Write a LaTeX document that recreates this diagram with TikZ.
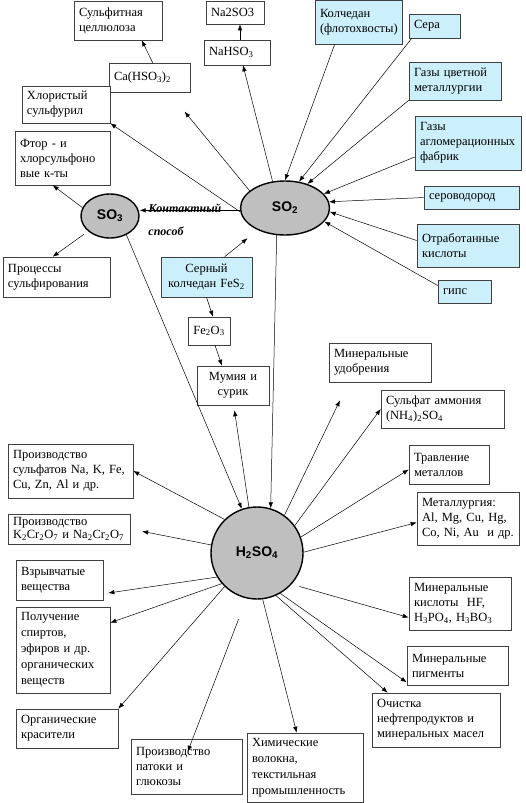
\documentclass[tikz,border=0pt]{standalone}
\usepackage{fontspec}
\setmainfont{Liberation Serif}
\setsansfont{Liberation Sans}
\usetikzlibrary{arrows.meta,shapes.geometric}

\begin{document}
\begin{tikzpicture}[x=1pt,y=-1pt,
  box/.style={draw=black!75,line width=0.6pt,fill=white,align=left,inner xsep=5pt,inner ysep=0pt,
    font=\fontsize{12.5}{15}\selectfont},
  src/.style={box,fill=cyan!20},
  blob/.style={ellipse,draw,line width=1.4pt,fill=gray!50,inner sep=0pt,
    font=\sffamily\bfseries\fontsize{14}{14}\selectfont},
  arr/.style={-{Latex[length=6pt,width=4.5pt]},line width=0.5pt}]

  \useasboundingbox (0,0) rectangle (525,803);

  % centres
  \node[blob,minimum width=58pt,minimum height=44pt] (so3) at (110,216) {SO\textsubscript{3}};
  \node[blob,minimum width=89pt,minimum height=54pt] (so2) at (285,208) {SO\textsubscript{2}};
  \node[blob,circle,minimum size=92pt] (h2so4) at (257,553) {H\textsubscript{2}SO\textsubscript{4}};

  % raw materials
  \node[src,text width=77pt,minimum height=44pt] (kolch) at (358.5,22) {Колчедан\\(флотохвосты)};
  \node[src,text width=41pt,minimum height=24pt] (sera) at (434.5,26) {Сера};
  \node[src,text width=82pt,minimum height=38pt] (gazy1) at (455,81) {Газы цветной\\металлургии};
  \node[src,text width=96pt,minimum height=54pt] (gazy2) at (468,143) {Газы\\агломерационных\\фабрик};
  \node[src,text width=85pt,minimum height=23pt] (h2s) at (471.5,197.5) {сероводород};
  \node[src,text width=92pt,minimum height=43pt] (otr) at (468,245.5) {Отработанные\\кислоты};
  \node[src,text width=43pt,minimum height=23pt] (gips) at (464.5,291.5) {гипс};
  \node[src,align=center,text width=81pt,minimum height=40pt] (fes2) at (206.5,277) {Серный\\колчедан FeS\textsubscript{2}};

  % SO2 / SO3 products
  \node[box,text width=78pt,minimum height=39pt] (cell) at (118,20.5) {Сульфитная\\целлюлоза};
  \node[box,text width=48pt,minimum height=23pt] (na2so3) at (235,12.5) {Na2SO3};
  \node[box,text width=56pt,minimum height=25pt] (nahso3) at (237,52.5) {NaHSO\textsubscript{3}};
  \node[box,text width=71pt,minimum height=29pt] (ca) at (149.5,77.5) {Ca(HSO\textsubscript{3})\textsubscript{2}};
  \node[box,text width=78pt,minimum height=37pt] (chlor) at (66,104.5) {Хлористый\\сульфурил};
  \node[box,text width=85pt,minimum height=54pt] (ftor) at (62.5,158) {Фтор - и\\хлорсульфоно\\вые к-ты};
  \node[box,text width=97pt,minimum height=40pt] (proc) at (56.5,277) {Процессы\\сульфирования};
  \node[box,align=center,text width=32pt,minimum height=28pt] (fe2o3) at (209,331) {Fe\textsubscript{2}O\textsubscript{3}};
  \node[box,align=center,text width=62pt,minimum height=39pt] (mum) at (233,385.5) {Мумия и\\сурик};

  \node[font=\bfseries\itshape\fontsize{12}{12}\selectfont] (kont) at (185,208) {Контактный};
  \node[font=\bfseries\itshape\fontsize{12}{12}\selectfont] (sposob) at (166,231) {способ};

  % H2SO4 products
  \node[box,text width=92pt,minimum height=39pt] (udob) at (380,362.5) {Минеральные\\удобрения};
  \node[box,text width=113pt,minimum height=38pt] (amm) at (442.5,409) {Сульфат аммония\\(NH\textsubscript{4})\textsubscript{2}SO\textsubscript{4}};
  \node[box,text width=70pt,minimum height=39pt] (trav) at (449,464.5) {Травление\\металлов};
  \node[box,text width=92pt,minimum height=53pt] (met) at (468,518.5) {Металлургия:\\Al, Mg, Cu, Hg,\\Co,~Ni,~Au~~и~др.};
  \node[box,text width=92pt,minimum height=53pt] (kisl) at (460,603.5) {Минеральные\\кислоты~~HF,\\H\textsubscript{3}PO\textsubscript{4}, H\textsubscript{3}BO\textsubscript{3}};
  \node[box,text width=91pt,minimum height=39pt] (pigm) at (457.5,665.5) {Минеральные\\пигменты};
  \node[box,text width=118pt,minimum height=54pt] (ochist) at (436,720) {Очистка\\нефтепродуктов и\\минеральных масел};
  \node[box,text width=106pt,minimum height=69pt,font=\fontsize{12.5}{16}\selectfont] (khim) at (305,767.5) {Химические\\волокна,\\текстильная\\промышленность};
  \node[box,text width=101pt,minimum height=55pt] (patok) at (186.5,766.5) {Производство\\патоки и\\глюкозы};
  \node[box,text width=92pt,minimum height=39pt] (krasit) at (67,728.5) {Органические\\красители};
  \node[box,text width=84pt,minimum height=86pt,font=\fontsize{12.5}{16}\selectfont] (spirt) at (63,650) {Получение\\спиртов,\\эфиров и др.\\органических\\веществ};
  \node[box,text width=77pt,minimum height=40pt] (vzryv) at (59.5,580) {Взрывчатые\\вещества};
  \node[box,text width=112pt,minimum height=30pt,font=\fontsize{12.5}{13}\selectfont] (chrom) at (69,529) {Производство\\K\textsubscript{2}Cr\textsubscript{2}O\textsubscript{7} и Na\textsubscript{2}Cr\textsubscript{2}O\textsubscript{7}};
  \node[box,text width=115pt,minimum height=54pt] (sulf) at (70.5,471) {Производство\\сульфатов~Na,~K,~Fe,\\Cu,~Zn,~Al~и~др.};

  % into SO2
  \foreach \s/\dx/\dy/\a/\e in {kolch.south west/20/0/90/0, sera.south west/3/0/62/0,
      gazy1.south west/0/0/47/0, gazy2.west/0/-14/20/0, h2s.west/0/0/8/0,
      otr.west/0/5/355/0, gips.west/0/6/341/0, fes2.north west/64/0/219/13}
    \draw[arr,shorten >=\e pt] ([xshift=\dx pt,yshift=\dy pt]\s) -- (so2.\a);

  % out of SO2 and SO3
  \draw[arr] (so2.115) -- ([xshift=6pt]nahso3.south);
  \draw[arr] ([xshift=3pt]nahso3.north) -- ([xshift=5pt]na2so3.south);
  \draw[arr,shorten >=25pt] (so2.154) -- ([xshift=60pt]ca.south west);
  \draw[arr] ([xshift=44pt]ca.north west) -- ([xshift=68pt]cell.south west);
  \draw[arr] (so2.185) -- (chlor.south east);
  \draw[arr] (so2.183) -- (so2.183 -| so3.east);
  \draw[arr] (so2.253) -- (h2so4.73);
  \draw[arr] (so3.163) -- ([xshift=38pt]ftor.south west);
  \draw[arr,shorten <=5pt] (so3.215) -- ([xshift=50pt]proc.north west);
  \draw[arr] (so3.311) -- (h2so4.109);
  \draw[arr] (fes2.south) -- ([xshift=4pt]fe2o3.north);
  \draw[arr] ([xshift=6pt]fe2o3.south) -- ([xshift=-11pt]mum.north);

  % out of H2SO4
  \foreach \a/\t/\dx/\dy/\s/\e in {100/mum.south west/37/0/0/5, 54/udob.south west/20/0/0/20,
      36/amm.west/0/0/0/0, 20/trav.west/0/-5/0/0, 1/met.west/0/-4/0/0,
      318/kisl.west/0/-14/8/0, 300/pigm.south west/0/3/0/0,
      294/ochist.north west/16/0/0/0, 277/khim.north west/50/0/0/0,
      257/patok.north west/57/-13/22/0, 226/krasit.north east/0/0/0/0,
      221/spirt.north east/0/-16/0/0, 211/vzryv.east/5/-13/0/0,
      170/chrom.east/0/0/0/12, 134/sulf.east/0/0/0/0}
    \draw[arr,shorten <=\s pt,shorten >=\e pt] (h2so4.\a) -- ([xshift=\dx pt,yshift=\dy pt]\t);
\end{tikzpicture}
\end{document}
